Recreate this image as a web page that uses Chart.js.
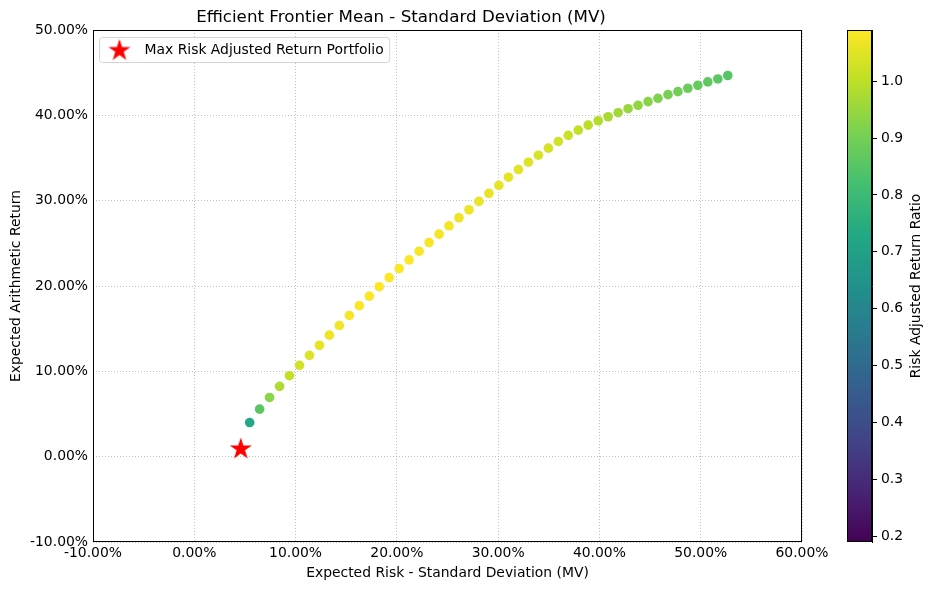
<!DOCTYPE html>
<html lang="en">
  <head>
    <meta charset="UTF-8" />
    <title>Efficient Frontier Mean - Standard Deviation (MV)</title>
    <script src="https://cdn.jsdelivr.net/npm/chart.js"></script>
    <style>
      body { margin: 0; background: #fff; }
      #wrap { position: relative; width: 933px; height: 590px; }
      #frontier { position: absolute; left: 0; top: 0; }
      #colorbar { position: absolute; left: 800px; top: 0; }
    </style>
  </head>
  <body>
    <div id="wrap">
      <canvas id="frontier" width="933" height="590"></canvas>
      <canvas id="colorbar" width="133" height="590"></canvas>
    </div>
    <script>
      // frontier portfolios (percent)
      const risk = [5.47, 6.45, 7.43, 8.42, 9.40, 10.39, 11.37, 12.36, 13.34, 14.32,
        15.31, 16.29, 17.28, 18.26, 19.24, 20.23, 21.21, 22.20, 23.18, 24.17,
        25.15, 26.13, 27.12, 28.10, 29.09, 30.07, 31.02, 32.00, 32.99, 33.97,
        34.96, 35.94, 36.92, 37.91, 38.89, 39.88, 40.86, 41.85, 42.83, 43.81,
        44.80, 45.78, 46.77, 47.75, 48.73, 49.72, 50.70, 51.69, 52.67]
      const ret = [4.00, 5.57, 6.94, 8.24, 9.49, 10.71, 11.88, 13.06, 14.24, 15.37,
        16.55, 17.69, 18.82, 19.92, 20.98, 22.04, 23.06, 24.08, 25.10, 26.08,
        27.06, 28.00, 28.94, 29.92, 30.86, 31.80, 32.75, 33.65, 34.51, 35.33,
        36.16, 36.94, 37.65, 38.27, 38.86, 39.37, 39.84, 40.31, 40.78, 41.18,
        41.61, 42.00, 42.43, 42.78, 43.18, 43.53, 43.92, 44.27, 44.67]
      const ratio = [0.73, 0.86, 0.93, 0.98, 1.01, 1.03, 1.045, 1.057, 1.067, 1.073,
        1.081, 1.086, 1.089, 1.09, 1.09, 1.089, 1.087, 1.085, 1.083, 1.079,
        1.076, 1.072, 1.067, 1.065, 1.061, 1.058, 1.056, 1.052, 1.046, 1.040,
        1.034, 1.028, 1.020, 1.009, 0.999, 0.987, 0.975, 0.963, 0.952, 0.940,
        0.929, 0.917, 0.907, 0.896, 0.886, 0.875, 0.866, 0.856, 0.848]

      const starRisk = [4.59]
      const starRet = [0.90]
      const starRatio = [0.19]

      const xTicks = [-10, 0, 10, 20, 30, 40, 50, 60]
      const yTicks = [-10, 0, 10, 20, 30, 40, 50]
      const cbTicks = [0.2, 0.3, 0.4, 0.5, 0.6, 0.7, 0.8, 0.9, 1.0]

      const cbMin = Math.min(...starRatio, ...ratio)
      const cbMax = Math.max(...starRatio, ...ratio)

      Chart.defaults.font.family = '"DejaVu Sans", sans-serif'
      Chart.defaults.color = "#000"

      const viridisStops = ["#440154", "#482475", "#414487", "#355f8d", "#2a788e",
        "#21918c", "#22a884", "#44bf70", "#7ad151", "#bddf26", "#fde725"]

      const hexRgb = (h) => [1, 3, 5].map((i) => parseInt(h.substr(i, 2), 16))

      const viridis = (v) => {
        let t = (v - cbMin) / (cbMax - cbMin)
        t = Math.max(0, Math.min(1, t)) * (viridisStops.length - 1)
        const i = Math.min(Math.floor(t), viridisStops.length - 2)
        const f = t - i
        const a = hexRgb(viridisStops[i])
        const b = hexRgb(viridisStops[i + 1])
        const c = a.map((x, k) => Math.round(x + (b[k] - x) * f))
        return "rgb(" + c.join(",") + ")"
      }

      // red five-point star used as marker
      const starImg = document.createElement("canvas")
      starImg.width = 26
      starImg.height = 26
      {
        const c = starImg.getContext("2d")
        const R = 11.6
        const r = R * 0.382
        c.beginPath()
        for (let k = 0; k < 10; k++) {
          const rad = k % 2 === 0 ? R : r
          const ang = -Math.PI / 2 + (k * Math.PI) / 5
          const px = 13 + rad * Math.cos(ang)
          const py = 13 + rad * Math.sin(ang)
          if (k === 0) c.moveTo(px, py)
          else c.lineTo(px, py)
        }
        c.closePath()
        c.fillStyle = "#ff0000"
        c.fill()
      }

      const pct = (v) => Number(v).toFixed(2) + "%"
      const gridOpts = { color: "#b0b0b0", lineWidth: 0.8, drawTicks: false }
      // border line itself is drawn by the frame plugin, dash is used by the grid
      const borderOpts = { display: false, dash: [1, 2] }

      const roundBox = (ctx, x, y, w, h, r) => {
        ctx.beginPath()
        ctx.moveTo(x + r, y)
        ctx.lineTo(x + w - r, y)
        ctx.arcTo(x + w, y, x + w, y + r, r)
        ctx.lineTo(x + w, y + h - r)
        ctx.arcTo(x + w, y + h, x + w - r, y + h, r)
        ctx.lineTo(x + r, y + h)
        ctx.arcTo(x, y + h, x, y + h - r, r)
        ctx.lineTo(x, y + r)
        ctx.arcTo(x, y, x + r, y, r)
        ctx.closePath()
      }

      const framePlugin = {
        id: "frame",
        afterDraw(chart) {
          const { ctx, chartArea: a } = chart
          ctx.save()
          ctx.strokeStyle = "#000"
          ctx.lineWidth = 1
          ctx.strokeRect(Math.round(a.left) + 0.5, Math.round(a.top) + 0.5,
            Math.round(a.right - a.left) - 1, Math.round(a.bottom - a.top) - 1)
          ctx.restore()
        },
      }

      const legendPlugin = {
        id: "legendBox",
        afterDraw(chart) {
          const { ctx, chartArea: a } = chart
          const ds = chart.data.datasets[0]
          ctx.save()
          ctx.font = '13.9px "DejaVu Sans"'
          const tw = ctx.measureText(ds.label).width
          const x = a.left + 6.5
          const y = a.top + 7.5
          const w = 45 + tw + 6
          const h = 25
          roundBox(ctx, x, y, w, h, 3)
          ctx.fillStyle = "rgba(255,255,255,0.9)"
          ctx.fill()
          ctx.strokeStyle = "#d5d5d5"
          ctx.lineWidth = 1
          ctx.stroke()
          ctx.drawImage(ds.pointStyle, x + 20 - 13, y + 13 - 13)
          ctx.fillStyle = "#000"
          ctx.textBaseline = "middle"
          ctx.fillText(ds.label, x + 45, y + 13)
          ctx.restore()
        },
      }

      const frontier = new Chart(document.getElementById("frontier"), {
        type: "scatter",
        data: {
          datasets: [
            {
              label: "Max Risk Adjusted Return Portfolio",
              data: starRisk.map((r, i) => ({ x: r, y: starRet[i] })),
              pointStyle: starImg,
              order: 0,
            },
            {
              label: "Frontier",
              data: risk.map((r, i) => ({ x: r, y: ret[i] })),
              backgroundColor: ratio.map((v) => viridis(v)),
              pointRadius: 4.8,
              pointHoverRadius: 4.8,
              borderWidth: 0,
              order: 1,
            },
          ],
        },
        options: {
          responsive: false,
          animation: false,
          layout: { padding: { left: 0, right: 131, top: 0, bottom: 0 } },
          plugins: {
            legend: { display: false },
            tooltip: { enabled: false },
            title: {
              display: true,
              text: "Efficient Frontier Mean - Standard Deviation (MV)",
              font: { size: 16.7, weight: "normal" },
              padding: { top: 8, bottom: 2 },
            },
          },
          scales: {
            x: {
              type: "linear",
              min: xTicks[0],
              max: xTicks[xTicks.length - 1],
              afterBuildTicks: (s) => { s.ticks = xTicks.map((v) => ({ value: v })) },
              afterFit: (s) => { s.height = 48; s.paddingLeft = 0; s.paddingRight = 0 },
              ticks: { padding: 3, font: { size: 13.9 }, callback: pct, autoSkip: false, maxRotation: 0 },
              grid: gridOpts,
              border: borderOpts,
              title: {
                display: true,
                text: "Expected Risk - Standard Deviation (MV)",
                font: { size: 13.9 },
                padding: { top: 0, bottom: 8 },
              },
            },
            y: {
              type: "linear",
              min: yTicks[0],
              max: yTicks[yTicks.length - 1],
              afterBuildTicks: (s) => { s.ticks = yTicks.map((v) => ({ value: v })) },
              afterFit: (s) => { s.width = 93; s.paddingTop = 0; s.paddingBottom = 0 },
              ticks: { padding: 5, font: { size: 13.9 }, callback: pct, autoSkip: false },
              grid: gridOpts,
              border: borderOpts,
              title: {
                display: true,
                text: "Expected Arithmetic Return",
                font: { size: 13.9 },
                padding: { top: 8, bottom: 0 },
              },
            },
          },
        },
        plugins: [framePlugin, legendPlugin],
      })

      const gradientPlugin = {
        id: "gradient",
        beforeDatasetsDraw(chart) {
          const { ctx, chartArea: a } = chart
          const g = ctx.createLinearGradient(0, a.bottom, 0, a.top)
          viridisStops.forEach((c, i) => g.addColorStop(i / (viridisStops.length - 1), c))
          ctx.save()
          ctx.fillStyle = g
          ctx.fillRect(a.left, a.top, a.right - a.left, a.bottom - a.top)
          ctx.restore()
        },
        afterDraw(chart) {
          const { ctx, chartArea: a } = chart
          ctx.save()
          ctx.strokeStyle = "#000"
          ctx.lineWidth = 1
          ctx.strokeRect(Math.round(a.left) + 0.5, Math.round(a.top) + 0.5,
            Math.round(a.right - a.left) - 1, Math.round(a.bottom - a.top) - 1)
          ctx.translate(116, (a.top + a.bottom) / 2)
          ctx.rotate(-Math.PI / 2)
          ctx.font = '13.9px "DejaVu Sans"'
          ctx.fillStyle = "#000"
          ctx.textAlign = "center"
          ctx.textBaseline = "middle"
          ctx.fillText("Risk Adjusted Return Ratio", 0, 0)
          ctx.restore()
        },
      }

      const colorbar = new Chart(document.getElementById("colorbar"), {
        type: "scatter",
        data: { datasets: [] },
        options: {
          responsive: false,
          animation: false,
          layout: { padding: { left: 47, top: 30, bottom: 48, right: 0 } },
          plugins: { legend: { display: false }, tooltip: { enabled: false } },
          scales: {
            x: { display: false, min: 0, max: 1 },
            y: {
              position: "right",
              min: cbMin,
              max: cbMax,
              afterBuildTicks: (s) => { s.ticks = cbTicks.map((v) => ({ value: v })) },
              afterFit: (s) => { s.width = 61; s.paddingTop = 0; s.paddingBottom = 0 },
              ticks: { padding: 4, font: { size: 13.9 }, callback: (v) => Number(v).toFixed(1) },
              grid: { drawOnChartArea: false, drawTicks: true, tickLength: 5, tickColor: "#000", tickWidth: 1 },
              border: { display: true, color: "#000", width: 1 },
            },
          },
        },
        plugins: [gradientPlugin],
      })
    </script>
  </body>
</html>
